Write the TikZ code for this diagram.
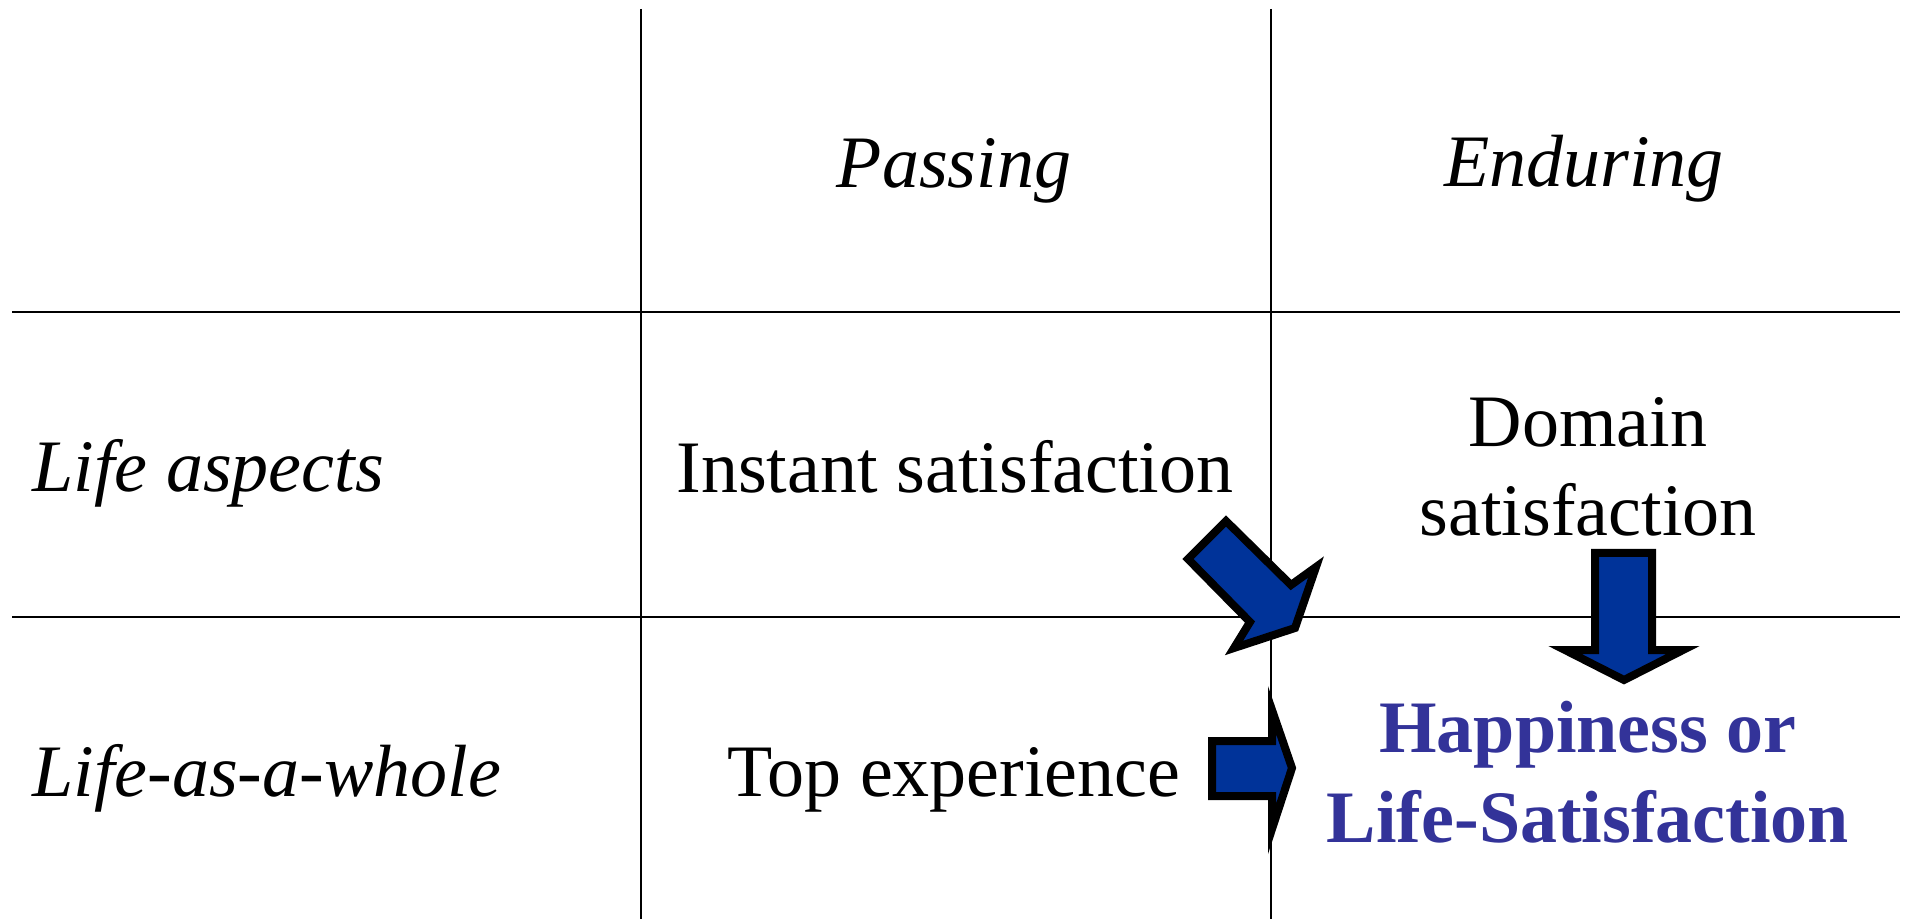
\documentclass[tikz,border=0pt]{standalone}
\usepackage{fontspec}
\setmainfont{Liberation Serif}
\usetikzlibrary{positioning}
\definecolor{arrowblue}{HTML}{003399}
\definecolor{textblue}{HTML}{333399}

\begin{document}
\begin{tikzpicture}[
        x=0.5pt, y=-0.5pt,
        every node/.style={inner sep=0pt, font=\fontsize{37pt}{44.5pt}\selectfont},
        colhead/.style={anchor=base, font=\fontsize{37pt}{44.5pt}\selectfont\itshape},
        rowhead/.style={anchor=base west, font=\fontsize{37pt}{44.5pt}\selectfont\itshape},
        cell/.style={anchor=base, align=center},
        result/.style={anchor=base, align=center, text=textblue,
            font=\fontsize{37pt}{45pt}\selectfont\bfseries},
        gridline/.style={line width=1pt},
        blockarrow/.style={draw=black, line width=4pt, fill=arrowblue, line join=miter}
    ]
        \useasboundingbox (0,0) rectangle (1907,919);

        % Lưới bảng
        \draw[gridline] (12,312) -- (1900,312);
        \draw[gridline] (12,617) -- (1900,617);
        \draw[gridline] (641,9) -- (641,919);
        \draw[gridline] (1271,9) -- (1271,919);

        % Tiêu đề cột và hàng
        \node[colhead] (passing) at (954,188) {Passing};
        \node[colhead] (enduring) at (1584,187) {Enduring};
        \node[rowhead] (aspects) at (32,492) {Life aspects};
        \node[rowhead] (whole) at (32,796) {Life-as-a-whole};

        % Các ô
        \node[cell] (instant) at (955,493) {Instant satisfaction};
        \node[cell] (domain) at (1588,536) {Domain\\satisfaction};
        \node[cell] (topexp) at (954,796) {Top experience};
        \node[result] (happy) at (1588,842) {Happiness or\\Life-Satisfaction};

        % Các mũi tên khối
        \draw[blockarrow] (1226,521) -- (1188,559) -- (1250,622) -- (1234,648)
            -- (1295,628) -- (1316,567) -- (1291,585) -- cycle;
        \draw[blockarrow] (1595,553) -- (1652,553) -- (1652,650) -- (1683,650)
            -- (1624,680) -- (1565,650) -- (1595,650) -- cycle;
        \draw[blockarrow] (1212,741) -- (1272,741) -- (1272,710) -- (1292,768)
            -- (1272,829) -- (1272,796) -- (1212,796) -- cycle;
    \end{tikzpicture}
\end{document}
